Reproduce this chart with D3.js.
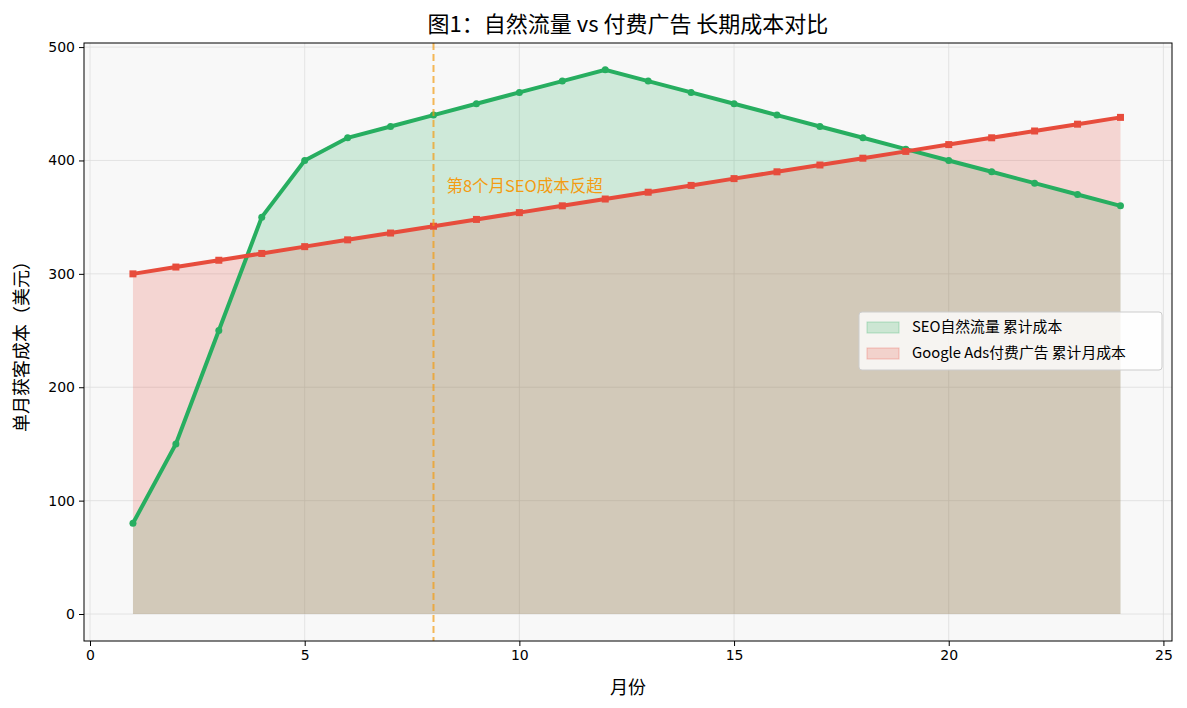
<!DOCTYPE html>
<html><head><meta charset="utf-8">
<script src="https://cdn.jsdelivr.net/npm/d3@7"></script>
<style>body{margin:0;background:#fff;font-family:"Noto Sans CJK SC","DejaVu Sans",sans-serif}</style>
</head><body>
<svg id="c" width="1187" height="708"></svg>
<script>
// data
var months = d3.range(1, 25);
var seoCost = [80,150,250,350,400,420,430,440,450,460,470,480,470,460,450,440,430,420,410,400,390,380,370,360];
var adsCost = [300,306,312,318,324,330,336,342,348,354,360,366,372,378,384,390,396,402,408,414,420,426,432,438];
var xTicks = [0,5,10,15,20,25];
var yTicks = [0,100,200,300,400,500];

var svg = d3.select("#c");
var L = 84, R = 1172, T = 43, B = 641;
var x = d3.scaleLinear().domain([-0.14, 25.2]).range([L, R]);
var y = d3.scaleLinear().domain([-23.8, 503.6]).range([B, T]);

svg.append("rect").attr("x", L).attr("y", T).attr("width", R - L).attr("height", B - T).attr("fill", "#f8f8f8");

// grid
svg.selectAll(".gx").data(xTicks).enter().append("line")
    .attr("x1", d => x(d)).attr("x2", d => x(d)).attr("y1", T).attr("y2", B)
    .attr("stroke", "#ddd").attr("stroke-width", 0.8);
svg.selectAll(".gy").data(yTicks).enter().append("line")
    .attr("y1", d => y(d)).attr("y2", d => y(d)).attr("x1", L).attr("x2", R)
    .attr("stroke", "#ddd").attr("stroke-width", 0.8);

var area = vals => d3.area().x((d, i) => x(months[i])).y0(y(0)).y1(d => y(d))(vals);
svg.append("path").attr("d", area(seoCost)).attr("fill", "#27ae60").attr("fill-opacity", 0.2);
svg.append("path").attr("d", area(adsCost)).attr("fill", "#e74c3c").attr("fill-opacity", 0.2);

var line = d3.line().x((d, i) => x(months[i])).y(d => y(d));
svg.append("path").attr("d", line(seoCost)).attr("fill", "none").attr("stroke", "#27ae60").attr("stroke-width", 4);
svg.selectAll(".sp").data(seoCost).enter().append("circle")
    .attr("cx", (d, i) => x(months[i])).attr("cy", d => y(d)).attr("r", 3.5).attr("fill", "#27ae60");
svg.append("path").attr("d", line(adsCost)).attr("fill", "none").attr("stroke", "#e74c3c").attr("stroke-width", 4);
svg.selectAll(".ap").data(adsCost).enter().append("rect")
    .attr("x", (d, i) => x(months[i]) - 3.5).attr("y", d => y(d) - 3.5).attr("width", 7).attr("height", 7).attr("fill", "#e74c3c");

// crossover marker
svg.append("line").attr("x1", x(8)).attr("x2", x(8)).attr("y1", T).attr("y2", B)
    .attr("stroke", "#f39c12").attr("stroke-width", 2).attr("stroke-dasharray", "7,4").attr("opacity", 0.7);
svg.append("text").attr("x", x(8.3)).attr("y", y(376)).attr("fill", "#f39c12").attr("font-size", 16.5).attr("dominant-baseline", "middle").text("第8个月SEO成本反超");

// frame & axes
svg.append("rect").attr("x", L).attr("y", T).attr("width", R - L).attr("height", B - T).attr("fill", "none").attr("stroke", "#000");
svg.append("g").attr("transform", "translate(0," + B + ")").call(d3.axisBottom(x).tickValues(xTicks).tickSize(5).tickPadding(4))
    .call(g => g.select(".domain").remove()).selectAll("text").attr("font-size", 14).attr("font-family", "DejaVu Sans");
svg.append("g").attr("transform", "translate(" + L + ",0)").call(d3.axisLeft(y).tickValues(yTicks).tickSize(5).tickPadding(4))
    .call(g => g.select(".domain").remove()).selectAll("text").attr("font-size", 14).attr("font-family", "DejaVu Sans");

svg.append("text").attr("x", (L + R) / 2).attr("y", 32).attr("text-anchor", "middle").attr("font-size", 22).text("图1：自然流量 vs 付费广告 长期成本对比");
svg.append("text").attr("x", (L + R) / 2).attr("y", 694).attr("text-anchor", "middle").attr("font-size", 18).text("月份");
svg.append("text").attr("transform", "translate(28," + (T + B) / 2 + ") rotate(-90)").attr("text-anchor", "middle").attr("font-size", 18).text("单月获客成本（美元）");

// legend
var lg = svg.append("g").attr("transform", "translate(859,312)");
lg.append("rect").attr("width", 303).attr("height", 58).attr("rx", 3).attr("fill", "#fff").attr("fill-opacity", 0.8).attr("stroke", "#ccc");
var items = [["SEO自然流量 累计成本", "#27ae60"], ["Google Ads付费广告 累计月成本", "#e74c3c"]];
items.forEach(function (it, i) {
    lg.append("rect").attr("x", 8).attr("y", 10 + i * 26).attr("width", 32).attr("height", 11)
        .attr("fill", it[1]).attr("fill-opacity", 0.2).attr("stroke", it[1]).attr("stroke-opacity", 0.3);
    lg.append("text").attr("x", 53).attr("y", 16 + i * 26).attr("dominant-baseline", "middle").attr("font-size", 14.8).text(it[0]);
});
</script>
</body></html>
